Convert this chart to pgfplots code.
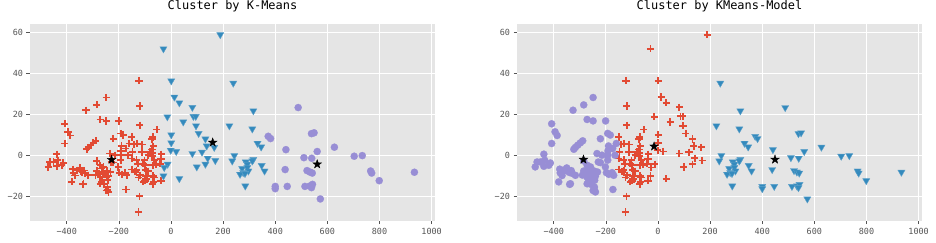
\documentclass[border=0pt]{standalone}
\usepackage{fontspec}
\usepackage{pgfplots}
\pgfplotsset{compat=1.18}
\setmainfont{DejaVu Sans Mono}
\definecolor{ggred}{HTML}{E24A33}
\definecolor{ggblue}{HTML}{348ABD}
\definecolor{ggpurple}{HTML}{988ED5}
\definecolor{ggbg}{HTML}{E5E5E5}
\definecolor{ggtick}{HTML}{555555}

\pgfdeclareplotmark{fstar}{%
  \pgfpathmoveto{\pgfpointpolar{90}{\pgfplotmarksize}}%
  \pgfpathlineto{\pgfpointpolar{126}{0.4\pgfplotmarksize}}%
  \pgfpathlineto{\pgfpointpolar{162}{\pgfplotmarksize}}%
  \pgfpathlineto{\pgfpointpolar{198}{0.4\pgfplotmarksize}}%
  \pgfpathlineto{\pgfpointpolar{234}{\pgfplotmarksize}}%
  \pgfpathlineto{\pgfpointpolar{270}{0.4\pgfplotmarksize}}%
  \pgfpathlineto{\pgfpointpolar{306}{\pgfplotmarksize}}%
  \pgfpathlineto{\pgfpointpolar{342}{0.4\pgfplotmarksize}}%
  \pgfpathlineto{\pgfpointpolar{18}{\pgfplotmarksize}}%
  \pgfpathlineto{\pgfpointpolar{54}{0.4\pgfplotmarksize}}%
  \pgfpathclose
  \pgfusepathqfillstroke}

\pgfplotsset{
  ggstyle/.style={
    scale only axis, width=405bp, height=196.7bp,
    xmin=-541, xmax=1013, ymin=-31.7, ymax=64.1,
    axis background/.style={fill=ggbg},
    axis line style={draw=none},
    grid=major, major grid style={white, line width=0.9bp},
    tick pos=left, tick align=outside,
    major tick style={ggtick, line width=0.6bp}, major tick length=3.5bp,
    xtick={-400,-200,0,200,400,600,800,1000},
    xticklabels={−400,−200,0,200,400,600,800,1000},
    ytick={-20,0,20,40,60},
    yticklabels={−20,0,20,40,60},
    tick label style={font=\fontsize{8.5}{10}\selectfont, text=ggtick},
    title style={font=\fontsize{12}{14}\selectfont, at={(0.5,1)}, anchor=center, yshift=11.5bp},
  },
  pred/.style={only marks, mark=+, mark size=3.6bp, line width=1.8bp, draw=ggred, color=ggred, mark options={draw=ggred, line width=1.8bp}},
  pblue/.style={only marks, mark=triangle*, mark size=4.1bp, color=ggblue, mark options={rotate=180, fill=ggblue, draw=ggblue!80!white, line width=0.4bp}},
  ppurple/.style={only marks, mark=*, mark size=3.6bp, color=ggpurple, mark options={fill=ggpurple, draw=ggpurple, line width=0.2bp}},
  pstar/.style={only marks, mark=fstar, mark size=4.6bp, color=black, mark options={fill=black, draw=black, line width=0.3bp}},
}

\begin{document}
\begin{tikzpicture}
\useasboundingbox (-30bp,-22.3bp) rectangle (906bp,220.7bp);
% left
\begin{axis}[ggstyle, at={(0bp,0bp)}, anchor=south west, title={Cluster by K-Means}]
\addplot[pred] coordinates {
(-249,28.3) (-285,24.7) (-326,22.1) (-272,17.6) (-249,16.9) (-201,16.9) (-408,15.5) (-395,11.6) (-387,9.8) (-408,5.9) (-193,10.8) (-183,10.0) (-221,8.2) (-289,7.2) (-298,6.2) (-308,5.1) (-317,4.0) (-323,3.1) (-160,5.9) (-174,3.5) (-192,2.3) (-193,0.2) (-234,1.0) (-438,0.7) (-285,-2.6) (-435,-2.2) (-193,-2.2) (-464,-3.1) (-451,-3.1) (-413,-3.6) (-471,-5.5) (-438,-5.2) (-419,-4.7) (-377,-6.6) (-362,-7.1) (-347,-7.5) (-340,-8.2) (-333,-7.3) (-330,-8.6) (-350,-6.0) (-375,-8.4) (-368,-9.7) (-381,-12.8) (-339,-14.0) (-285,-7.5) (-276,-9.0) (-290,-9.5) (-272,-10.5) (-262,-8.0) (-252,-9.3) (-245,-7.5) (-240,-10.0) (-243,-12.0) (-247,-10.7) (-266,-12.8) (-257,-14.0) (-244,-15.3) (-244,-16.9) (-240,-17.7) (-249,-17.0) (-198,-8.3) (-189,-9.1) (-176,-8.3) (-170,-9.6) (-202,-5.5) (-221,-3.4) (-173,-16.5) (-317,-9.6) (-272,-4.7) (-266,-6.3) (-259,-5.5) (-229,-3.1) (-232,-8.0) (-215,0.2) (-336,-13.7) (-272,-13.7) (-264,-12.0) (-190,4.7) (-165,0.2)
(-123,36.4) (-120,24.2) (-120,14.8) (-55,12.7) (-151,9.1) (-70,9.1) (-73,7.9) (-129,5.9) (-142,5.6) (-111,5.4) (-148,1.8) (-111,1.8) (-73,3.0) (-81,1.8) (-68,4.6) (-87,0.2) (-70,1.3) (-73,-0.3) (-37,0.7) (-151,-1.4) (-132,-2.0) (-102,-2.2) (-38,-1.8) (-64,-2.2) (-128,-3.9) (-106,-3.9) (-42,-3.9) (-57,-4.4) (-70,-4.7) (-100,-4.7) (-151,-6.8) (-138,-7.8) (-132,-7.1) (-97,-7.2) (-88,-7.6) (-68,-9.9) (-65,-10.7) (-96,-10.0) (-119,-9.6) (-125,-10.7) (-106,-12.8) (-93,-11.5) (-100,-12.2) (-68,-12.8) (-70,-14.0) (-38,-12.3) (-121,-19.8) (-125,-27.5)
};
\addplot[pblue] coordinates {
(189,58.9) (-29,52.0) (1,36.4) (13,28.5) (32,25.7) (82,23.5) (-14,18.9) (86,19.1) (95,19.1) (47,16.4) (96,14.5) (106,10.8) (1,10.1) (132,8.1) (1,6.2) (137,4.7) (166,4.0) (-1,2.6) (20,2.0) (82,1.0) (119,1.7) (141,-1.3) (170,-2.4) (-13,-4.2) (-26,-5.8) (-29,-9.9) (99,-5.5) (132,-4.2) (32,-11.2)
(239,35.3) (316,21.8) (224,14.5) (312,13.0) (332,6.0) (346,4.2) (243,0) (235,-2.6) (316,-1.8) (312,-2.6) (287,-3.1) (293,-4.2) (348,-4.8) (359,-7.5) (273,-6.3) (293,-5.8) (297,-7.5) (277,-8.3) (265,-9.1) (284,-8.7) (285,-14.8)
};
\addplot[ppurple] coordinates {
(488,23.4) (539,10.7) (549,11.1) (373,9.4) (382,8.3) (441,2.9) (627,4.1) (561,2.0) (510,-1.0) (540,-1.3) (703,-0.3) (734,0) (438,-6.8) (522,-7.3) (533,-8.0) (542,-8.5) (766,-7.5) (770,-8.5) (934,-8.1) (799,-12.2) (400,-15) (400,-16.1) (446,-15) (514,-15) (533,-14.8) (543,-14) (539,-15.6) (573,-21.1)
};
\addplot[pstar] coordinates {(-228,-2) (160,6.4) (561,-4.2)};
\end{axis}
% right
\begin{axis}[ggstyle, at={(487bp,0bp)}, anchor=south west, title={Cluster by KMeans-Model}]
\addplot[pred] coordinates {
(-123,36.4) (-120,24.2) (-120,14.8) (-55,12.7) (-151,9.1) (-70,9.1) (-73,7.9) (-129,5.9) (-142,5.6) (-111,5.4) (-148,1.8) (-111,1.8) (-73,3.0) (-81,1.8) (-68,4.6) (-87,0.2) (-70,1.3) (-73,-0.3) (-37,0.7) (-151,-1.4) (-132,-2.0) (-102,-2.2) (-38,-1.8) (-64,-2.2) (-128,-3.9) (-106,-3.9) (-42,-3.9) (-57,-4.4) (-70,-4.7) (-100,-4.7) (-151,-6.8) (-138,-7.8) (-132,-7.1) (-97,-7.2) (-88,-7.6) (-68,-9.9) (-65,-10.7) (-96,-10.0) (-119,-9.6) (-125,-10.7) (-106,-12.8) (-93,-11.5) (-100,-12.2) (-68,-12.8) (-70,-14.0) (-38,-12.3) (-121,-19.8) (-125,-27.5)
(189,58.9) (-29,52.0) (1,36.4) (13,28.5) (32,25.7) (82,23.5) (-14,18.9) (86,19.1) (95,19.1) (47,16.4) (96,14.5) (106,10.8) (1,10.1) (132,8.1) (1,6.2) (137,4.7) (166,4.0) (-1,2.6) (20,2.0) (82,1.0) (119,1.7) (141,-1.3) (170,-2.4) (-13,-4.2) (-26,-5.8) (-29,-9.9) (99,-5.5) (132,-4.2) (32,-11.2)
};
\addplot[pblue] coordinates {
(239,35.3) (316,21.8) (224,14.5) (312,13.0) (332,6.0) (346,4.2) (243,0) (235,-2.6) (316,-1.8) (312,-2.6) (287,-3.1) (293,-4.2) (348,-4.8) (359,-7.5) (273,-6.3) (293,-5.8) (297,-7.5) (277,-8.3) (265,-9.1) (284,-8.7) (285,-14.8)
(488,23.4) (539,10.7) (549,11.1) (373,9.4) (382,8.3) (441,2.9) (627,4.1) (561,2.0) (510,-1.0) (540,-1.3) (703,-0.3) (734,0) (438,-6.8) (522,-7.3) (533,-8.0) (542,-8.5) (766,-7.5) (770,-8.5) (934,-8.1) (799,-12.2) (400,-15) (400,-16.1) (446,-15) (514,-15) (533,-14.8) (543,-14) (539,-15.6) (573,-21.1)
};
\addplot[ppurple] coordinates {
(-249,28.3) (-285,24.7) (-326,22.1) (-272,17.6) (-249,16.9) (-201,16.9) (-408,15.5) (-395,11.6) (-387,9.8) (-408,5.9) (-193,10.8) (-183,10.0) (-221,8.2) (-289,7.2) (-298,6.2) (-308,5.1) (-317,4.0) (-323,3.1) (-160,5.9) (-174,3.5) (-192,2.3) (-193,0.2) (-234,1.0) (-438,0.7) (-285,-2.6) (-435,-2.2) (-193,-2.2) (-464,-3.1) (-451,-3.1) (-413,-3.6) (-471,-5.5) (-438,-5.2) (-419,-4.7) (-377,-6.6) (-362,-7.1) (-347,-7.5) (-340,-8.2) (-333,-7.3) (-330,-8.6) (-350,-6.0) (-375,-8.4) (-368,-9.7) (-381,-12.8) (-339,-14.0) (-285,-7.5) (-276,-9.0) (-290,-9.5) (-272,-10.5) (-262,-8.0) (-252,-9.3) (-245,-7.5) (-240,-10.0) (-243,-12.0) (-247,-10.7) (-266,-12.8) (-257,-14.0) (-244,-15.3) (-244,-16.9) (-240,-17.7) (-249,-17.0) (-198,-8.3) (-189,-9.1) (-176,-8.3) (-170,-9.6) (-202,-5.5) (-221,-3.4) (-173,-16.5) (-317,-9.6) (-272,-4.7) (-266,-6.3) (-259,-5.5) (-229,-3.1) (-232,-8.0) (-215,0.2) (-336,-13.7) (-272,-13.7) (-264,-12.0) (-190,4.7) (-165,0.2)
};
\addplot[pstar] coordinates {(-286,-1.9) (-15,4.5) (449,-1.9)};
\end{axis}
\end{tikzpicture}
\end{document}
